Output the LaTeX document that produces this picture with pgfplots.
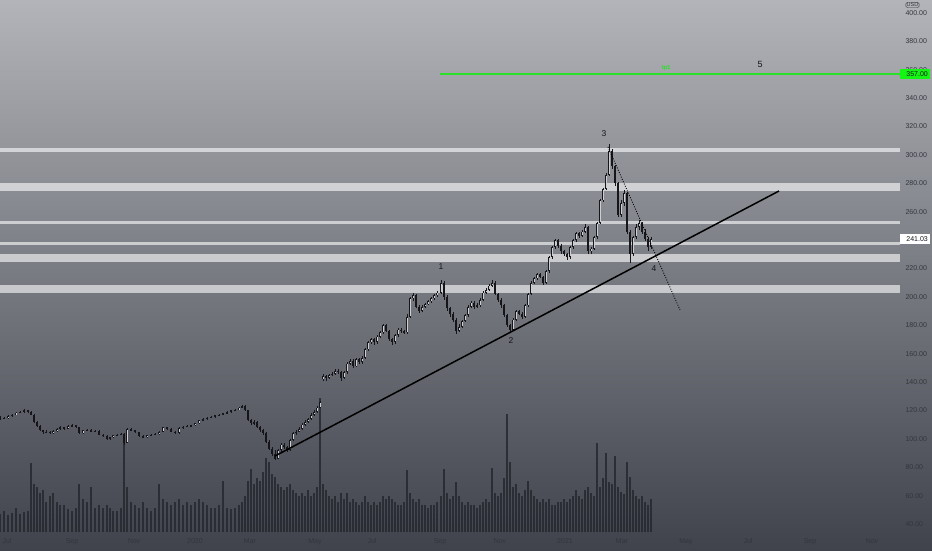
\documentclass[border=0pt]{standalone}
\usepackage{fontspec}
\setmainfont{Liberation Sans}
\usepackage{pgfplots}
\usepackage{pgfplotstable}
\pgfplotsset{compat=1.18}
\definecolor{bgtop}{RGB}{178,180,185}
\definecolor{bgbot}{RGB}{64,66,76}
\definecolor{candle}{RGB}{22,22,26}
\definecolor{upfill}{RGB}{205,206,210}
\definecolor{volcol}{RGB}{38,40,48}
\definecolor{tp}{RGB}{40,225,40}
\definecolor{tpbox}{RGB}{20,245,20}
\definecolor{lbl}{RGB}{52,54,62}
\pgfplotstableread{
x o h l c v
0 114 116 113 115 3
4 115 115.5 113.8 114.5 3.5
8 114.5 116.6 114 116 2.8
12 116 117.8 115.5 117 3.2
16 117 119.2 116.5 118.5 4
20 118.5 119.8 118 119 3
24 119 120.8 118.5 120 3.4
28 120 120.5 118.5 119 3.5
31 119 119.5 116.5 117 11.5
34 117 117.5 111.5 112 8
37 112 112.5 108 109 7.5
40 109 109.5 105.5 106 6.5
43 106 106.5 103.5 104.5 7
46 104.5 106 104 105 5
50 105 105.5 103.5 104 6
53 104 106 103.5 105.5 6.5
57 105.5 107.5 105 107 5
60 107 108.8 106.5 108 4.5
64 108 108.5 106.5 107 4.5
68 107 109.5 106.8 109 3.8
72 109 110.3 108.5 109.5 3.5
76 109.5 110 107.5 108 4
79 108 108.5 103.5 104 8
83 104 106.5 103.5 106 5.5
87 106 107 105.5 106.5 5
91 106.5 107 104.5 105 7.5
95 105 106 104.5 105.5 4
99 105.5 106 102.5 103 4.5
103 103 103.5 101.5 102 4
107 102 102.5 99.5 100 4.5
110 100 101.5 99.5 101 4
113 101 103 100.5 102.5 3.5
117 102.5 103.5 102 103 3.5
121 103 104 102.5 103.5 4
124 103.5 104 96 97 15
127 97 107.5 97 107 7.5
131 107 107.5 105.5 106 5
135 106 106.5 104 104.5 4.5
139 104.5 105 101.5 102 4
143 102 102.5 100.5 101 5
147 101 103 100.5 102.5 4
151 102.5 103.5 102 103 3.5
155 103 104 102.5 103.5 4
159 103.5 105.5 103 105 8
163 105 108.5 104.5 108 5.5
167 108 108.5 106.5 107 5
171 107 107.5 104.5 105 4.5
175 105 105.5 103.5 104 5
179 104 108 103.5 107.5 5.5
183 107.5 109 107 108.5 4.5
187 108.5 109.5 108 109 5
191 109 110 108.5 109.5 4.5
195 109.5 111.5 109 111 5
199 111 113.5 110.5 113 5.5
203 113 114.5 112.5 114 5
207 114 115.5 113.5 115 4.5
211 115 116 114.5 115.5 4
215 115.5 117 115 116.5 4
219 116.5 117.5 116 117 4.5
223 117 118.5 116.5 118 8.5
227 118 119.5 117.5 119 4
231 119 120.5 118.5 120 3.8
235 120 121 119.5 120.5 4
239 120.5 122.5 120 122 4.5
242 122 124 121.5 123 5
245 123 123.5 119.5 120 6
248 120 120.5 112.5 113 8.5
251 113 114 110 111 10.5
254 111 113 110 112 8
257 112 112.5 107.5 108 9
260 108 109 105 106 8.5
263 106 107 103 104 10
266 104 105 97 98 12.3
269 98 99 92 93 11.7
272 93 94 88 89 9.7
275 89 92 85 86 9.2
278 86 93 85.5 92 8
281 92 97 91 96 7.5
284 96 97 93 94 7
287 94 95 91 92 7.5
290 92 100 91.5 99 8
293 99 105 98.5 104 7
296 104 106 103 105 6.5
299 105 108 104.5 107 6
302 107 111 106.5 110 6.5
305 110 113 109 112 6
308 112 115 111 114 7
311 114 118 113.5 117 6
314 117 120 116 119 6.5
317 119 123 118.5 122 7.5
320 122 127 121.5 126 22.3
323 142 146 141 144 8
326 144 145 141 143 7
329 143 146 142 145 6
332 145 147 144 146 5.5
335 146 149 145 148 6
338 148 149 146 147 5
341 147 148 141 143 6.5
344 143 148 142.5 147 5.5
347 147 154 146 153 6.5
350 153 156 152 155 5
353 155 156 150 151 5.5
356 151 157 150.5 156 5
359 156 157 153 154 4.5
362 154 158 153 157 5
365 157 164 156 163 6
368 163 169 162 168 5
371 168 171 167 170 4.5
374 170 171 166 168 5
377 168 173 167 172 4.5
380 172 176 171 175 5
383 175 181 174 180 6
386 180 181 175 176 5.5
389 176 177 169 170 6
392 170 171 166 168 5.5
395 168 174 167 173 5
398 173 178 172 177 4.5
401 177 178 174.5 176 4.5
404 176 177 173.5 175 5
407 175 188 174 186 10.3
410 186 200 185 199 6.5
413 199 203 197 201 5.5
416 201 202 192 193 5
419 193 194 188.5 190 5.5
422 190 194 189 193 4.5
425 193 196 192 195 4.5
428 195 198 194 197 4
431 197 200 196 199 4.5
434 199 202 198 201 4.5
437 201 204 200 203 5
441 203 212 202 210 6
444 210 211 198 200 10.5
447 200 201 190 192 6.5
450 192 193 186 188 5.5
453 188 189 182 184 6
456 184 185 174 176 8.3
459 176 181 175 179 6
462 179 184 178 183 5
465 183 188 182 187 4.5
468 187 194 186 193 5
471 193 197 192 196 4.5
474 196 197 191.5 193 4.5
477 193 195.5 192 194 4
480 194 199 193 198 4.5
483 198 204 197 203 5
486 203 206 202 205 5.5
489 205 209 204 208 5
492 208 212 207 210 10.7
495 210 211 201 202 6.5
498 202 203 196.5 198 6
501 198 199 192.5 194 6.5
504 194 195 185.5 187 9
507 187 188 178.5 180 19.7
510 180 181 175 177 11.7
513 177 185 176 184 7.5
516 184 191 183 190 8
519 190 191 187 188 6.5
522 188 189 184.5 186 6
525 186 195 185 194 7
528 194 203 193 202 8.5
531 202 211 201 210 7
534 210 214 209 213 6
537 213 217 212 216 5.5
540 216 217 213 214 5
543 214 215 208.5 210 5.5
546 210 219 209 218 5
549 218 229 217 228 5.5
552 228 236 227 235 4.5
555 235 241 234 240 4.5
558 240 241 234.5 236 5
561 236 237 230.5 232 5
564 232 233 228.5 230 5.5
567 230 231 226 228 5
570 228 236 227 235 5.5
573 235 241 234 240 6
576 240 246 239 245 7
579 245 246 241.5 243 6
582 243 247 242 246 5.5
585 246 251 245 249 7
588 249 250 230 232 7.5
591 232 235 230 234 6.5
594 234 243 233 242 6
597 242 253 241 252 14.8
600 252 269 251 268 7.5
603 268 277 267 276 9
606 276 287 275 286 13.2
609 286 308 285 303 8.3
612 303 304 290 292 8
615 292 293 278 280 12.7
618 280 281 256 258 7.5
621 258 268 256 266 6.7
624 266 275 264 273 6.3
627 273 274 244 246 11.7
630 246 247 224 230 9.2
633 230 243 229 242 7
636 242 251 241 249 6
639 249 254 247 252 5.5
642 252 253 244.5 246 6
645 246 248 239.5 241 5
648 241 242 232 235 4.5
651 235 242 234 241 5.5
}\data
\begin{document}
\begin{tikzpicture}
\path[use as bounding box] (0,0) rectangle (932pt,550pt);
\shade[top color=bgtop, bottom color=bgbot] (0,0) rectangle (932pt,550pt);
% volume overlay
\begin{axis}[at={(0pt,18pt)}, anchor=south west, scale only axis,
  width=900pt, height=532pt, xmin=0, xmax=900, ymin=0, ymax=88.67, hide axis]
\addplot[ycomb, mark=none, draw=volcol, line width=1.6pt, opacity=0.85] table[x=x,y=v]{\data};
\end{axis}
% price
\begin{axis}[at={(0pt,18pt)}, anchor=south west, scale only axis,
  width=900pt, height=532pt, xmin=0, xmax=900, ymin=34.36, ymax=409.15, clip=false,
  axis line style={draw=none}, tick style={draw=none}, major tick length=0pt,
  yticklabel pos=right, ytick={40,60,...,400},
  /pgf/number format/assume math mode=true,
  scaled y ticks=false,
  yticklabel style={/pgf/number format/fixed, /pgf/number format/fixed zerofill,
    /pgf/number format/precision=2, font=\fontsize{7}{8}\selectfont, text=lbl,
    anchor=west, xshift=2pt},
  xtick={7,72,134,195,250,315,372,440,500,565,622,686,748,810,872},
  xticklabels={Jul,Sep,Nov,2020,Mar,May,Jul,Sep,Nov,2021,Mar,May,Jul,Sep,Nov},
  xticklabel style={font=\fontsize{7}{8}\selectfont, text=lbl, anchor=north, yshift=-3pt}
]
% zones
\addplot[draw=none, fill=white, fill opacity=0.6, forget plot] coordinates {(0,302.2) (900,302.2) (900,305) (0,305)};
\addplot[draw=none, fill=white, fill opacity=0.6, forget plot] coordinates {(0,274.6) (900,274.6) (900,280.2) (0,280.2)};
\addplot[draw=none, fill=white, fill opacity=0.6, forget plot] coordinates {(0,251.3) (900,251.3) (900,253.5) (0,253.5)};
\addplot[draw=none, fill=white, fill opacity=0.6, forget plot] coordinates {(0,236.6) (900,236.6) (900,238.7) (0,238.7)};
\addplot[draw=none, fill=white, fill opacity=0.6, forget plot] coordinates {(0,224.6) (900,224.6) (900,230.2) (0,230.2)};
\addplot[draw=none, fill=white, fill opacity=0.6, forget plot] coordinates {(0,202.7) (900,202.7) (900,208.4) (0,208.4)};
% wicks
\addplot[draw=none, mark=none, forget plot,
  error bars/.cd, y dir=both, y explicit, error mark=none,
  error bar style={draw=candle, line width=0.6pt}]
  table[x=x, y expr={(\thisrow{h}+\thisrow{l})/2}, y error expr={(\thisrow{h}-\thisrow{l})/2}] {\data};
% bodies
\addplot[draw=none, mark=none, forget plot,
  error bars/.cd, y dir=both, y explicit, error mark=none,
  error bar style={draw=candle, line width=2.1pt}]
  table[x=x, y expr={(\thisrow{o}+\thisrow{c})/2}, y error expr={abs(\thisrow{o}-\thisrow{c})/2}] {\data};
% hollow up candles
\addplot[draw=none, mark=none, forget plot,
  error bars/.cd, y dir=both, y explicit, error mark=none,
  error bar style={draw=upfill, line width=0.7pt}]
  table[x=x, y expr={(\thisrow{o}+\thisrow{c})/2}, y error expr={max(\thisrow{c}-\thisrow{o}-1.2,0)/2}] {\data};
% trend lines
\addplot[black, line width=1.5pt, mark=none] coordinates {(275,87.9) (779,274.6)};
\addplot[black, line width=0.9pt, mark=none, dash pattern=on 0.9pt off 1.6pt] coordinates {(608,305.6) (680,190.8)};
\addplot[tp, line width=1.5pt, mark=none] coordinates {(440,357) (900,357)};
% labels
\node[font=\fontsize{6}{7}\selectfont\bfseries, text=tp] at (axis cs:666,361.5) {tp1};
\node[font=\fontsize{8.5}{10}\selectfont, text=candle] at (axis cs:441,221) {1};
\node[font=\fontsize{8.5}{10}\selectfont, text=candle] at (axis cs:511,169) {2};
\node[font=\fontsize{8.5}{10}\selectfont, text=candle] at (axis cs:604,314.8) {3};
\node[font=\fontsize{8.5}{10}\selectfont, text=candle] at (axis cs:654,219.6) {4};
\node[font=\fontsize{9}{10}\selectfont, text=candle] at (axis cs:760,363.4) {5};
% price tags
\node[fill=white, anchor=west, minimum width=30pt, minimum height=10pt, inner sep=0pt] at (axis cs:900,241.03) {};
\node[anchor=east, font=\fontsize{7}{8}\selectfont, text=candle, inner sep=0pt] at (axis cs:928,241.03) {241.03};
\node[fill=tpbox, anchor=west, minimum width=30pt, minimum height=10pt, inner sep=0pt] at (axis cs:900,357) {};
\node[anchor=east, font=\fontsize{7}{8}\selectfont, text=candle, inner sep=0pt] at (axis cs:928,357) {357.00};
\node[draw=lbl, rounded corners=1.5pt, line width=0.4pt, inner sep=0.8pt, font=\fontsize{5.5}{6}\selectfont, text=lbl] at (axis cs:912.5,405.6) {USD};
\end{axis}
\end{tikzpicture}
\end{document}
